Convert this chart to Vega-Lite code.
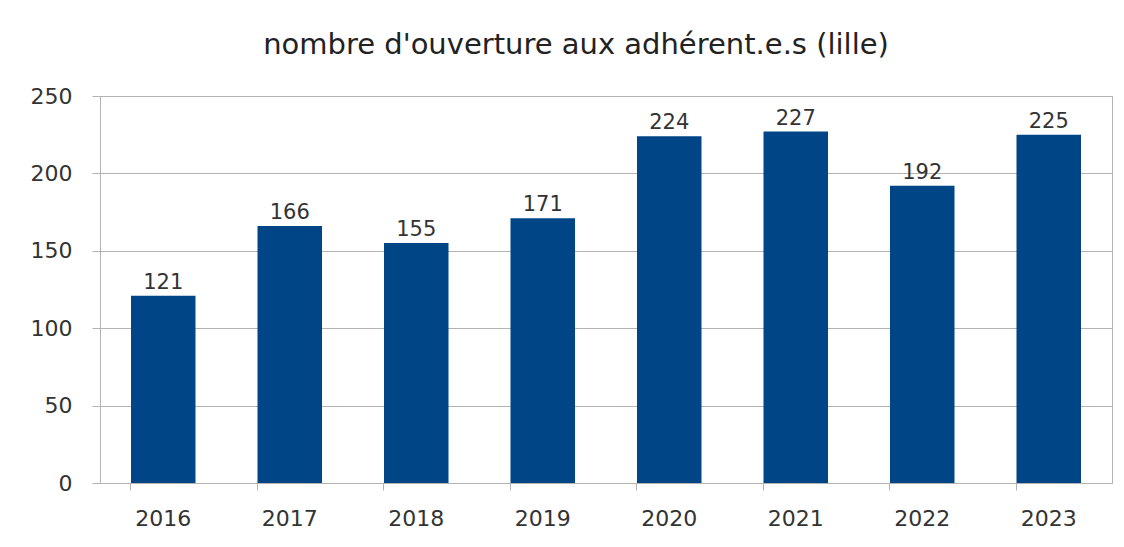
{
  "$schema": "https://vega.github.io/schema/vega-lite/v6.json",
  "autosize": "none",
  "width": 1012,
  "height": 387,
  "padding": {"left": 100, "top": 96, "right": 12, "bottom": 64},
  "background": "white",
  "title": {
    "text": "nombre d'ouverture aux adhérent.e.s (lille)",
    "font": "DejaVu Sans",
    "fontSize": 29,
    "fontWeight": "normal",
    "color": "#222222",
    "anchor": "middle",
    "dx": -30,
    "offset": 25
  },
  "data": {
    "values": [
      {"annee": "2016", "nombre": 121},
      {"annee": "2017", "nombre": 166},
      {"annee": "2018", "nombre": 155},
      {"annee": "2019", "nombre": 171},
      {"annee": "2020", "nombre": 224},
      {"annee": "2021", "nombre": 227},
      {"annee": "2022", "nombre": 192},
      {"annee": "2023", "nombre": 225}
    ]
  },
  "encoding": {
    "x": {
      "field": "annee",
      "type": "nominal",
      "sort": null,
      "scale": {"paddingInner": 0.49, "paddingOuter": 0.245},
      "axis": {
        "title": null,
        "labelAngle": 0,
        "labelFont": "DejaVu Sans",
        "labelFontSize": 22,
        "labelColor": "#333333",
        "labelPadding": 18,
        "bandPosition": 0,
        "tickSize": 7,
        "tickColor": "#b3b3b3",
        "domainColor": "#b3b3b3",
        "grid": false
      }
    },
    "y": {
      "field": "nombre",
      "type": "quantitative",
      "scale": {"domain": [0, 250], "nice": false},
      "axis": {
        "title": null,
        "values": [0, 50, 100, 150, 200, 250],
        "labelFont": "DejaVu Sans",
        "labelFontSize": 22,
        "labelColor": "#333333",
        "labelPadding": 20,
        "tickSize": 8,
        "tickColor": "#b3b3b3",
        "domainColor": "#b3b3b3",
        "gridColor": "#b3b3b3",
        "grid": true
      }
    }
  },
  "layer": [
    {"mark": {"type": "bar", "color": "#004586"}},
    {
      "mark": {
        "type": "text",
        "baseline": "alphabetic",
        "dy": -7,
        "font": "DejaVu Sans",
        "fontSize": 21,
        "color": "#333333"
      },
      "encoding": {"text": {"field": "nombre", "type": "quantitative"}}
    }
  ],
  "config": {
    "view": {"stroke": "#b3b3b3"}
  }
}
